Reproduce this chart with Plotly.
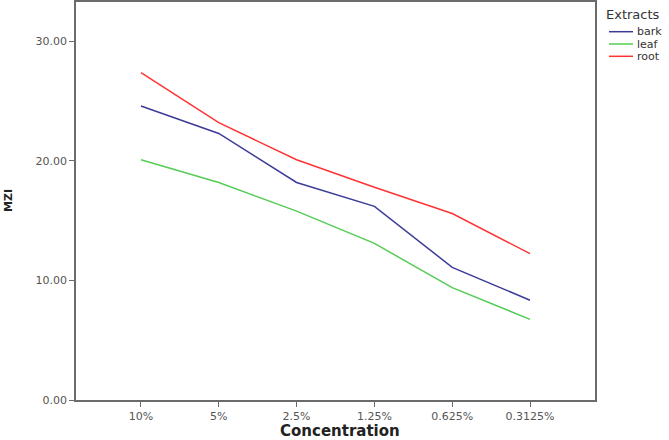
import plotly.graph_objects as go

concentrations = ["10%", "5%", "2.5%", "1.25%", "0.625%", "0.3125%"]
bark = [24.6, 22.3, 18.2, 16.2, 11.1, 8.35]
leaf = [20.1, 18.2, 15.8, 13.1, 9.4, 6.75]
root = [27.4, 23.2, 20.1, 17.8, 15.6, 12.25]

series = [
    ("bark", bark, "#3c3c98"),
    ("leaf", leaf, "#55cc55"),
    ("root", root, "#ff3333"),
]

FONT = "DejaVu Sans, Liberation Sans, Arial"

# plot area in pixels: x 76..595, y 2..400
PW, PH = 519, 398


def px_x(px):
    return (px - 76) / PW


def px_y(py):
    return (400 - py) / PH


fig = go.Figure()
for name, vals, color in series:
    fig.add_trace(
        go.Scatter(
            x=concentrations,
            y=vals,
            mode="lines",
            name=name,
            line=dict(color=color, width=1.5),
            showlegend=False,
        )
    )

axis_style = dict(
    showline=True,
    linecolor="#6b6b6b",
    linewidth=1.5,
    mirror=True,
    ticks="outside",
    ticklen=5,
    tickcolor="#6b6b6b",
    showgrid=False,
    zeroline=False,
    tickfont=dict(family=FONT, size=11, color="#555555"),
)

fig.update_xaxes(**axis_style, type="category", range=[-0.835, 5.835])
fig.update_yaxes(**axis_style, range=[0, 33.3], tickvals=[0, 10, 20, 30], tickformat=".2f")

# axis titles as annotations so they sit where the reference has them
fig.add_annotation(
    xref="paper", yref="paper", x=px_x(339.5), y=px_y(431),
    text="<b>Concentration</b>", showarrow=False,
    xanchor="center", yanchor="middle",
    font=dict(family=FONT, size=15, color="#222222"),
)
fig.add_annotation(
    xref="paper", yref="paper", x=px_x(8), y=0.5,
    text="<b>MZI</b>", showarrow=False, textangle=-90,
    xanchor="center", yanchor="middle",
    font=dict(family=FONT, size=11, color="#222222"),
)

# SPSS-style legend, compact spacing that plotly's own legend can't do
fig.add_annotation(
    xref="paper", yref="paper", x=px_x(604), y=px_y(14),
    text="Extracts", showarrow=False,
    xanchor="left", yanchor="middle",
    font=dict(family=FONT, size=13, color="#333333"),
)
for i, (name, _, color) in enumerate(series):
    yy = px_y(31.7 + i * 12.3)
    fig.add_shape(
        type="line", xref="paper", yref="paper",
        x0=px_x(609), x1=px_x(633), y0=yy, y1=yy,
        line=dict(color=color, width=1.5),
    )
    fig.add_annotation(
        xref="paper", yref="paper", x=px_x(635), y=yy,
        text=name, showarrow=False,
        xanchor="left", yanchor="middle",
        font=dict(family=FONT, size=11, color="#333333"),
    )

fig.update_layout(
    width=669,
    height=440,
    margin=dict(l=76, r=74, t=2, b=40, autoexpand=False),
    plot_bgcolor="white",
    paper_bgcolor="white",
    showlegend=False,
)

fig.write_html(
    "out.html",
    config={"displayModeBar": False},
    post_script="document.body.style.margin='0';",
)
